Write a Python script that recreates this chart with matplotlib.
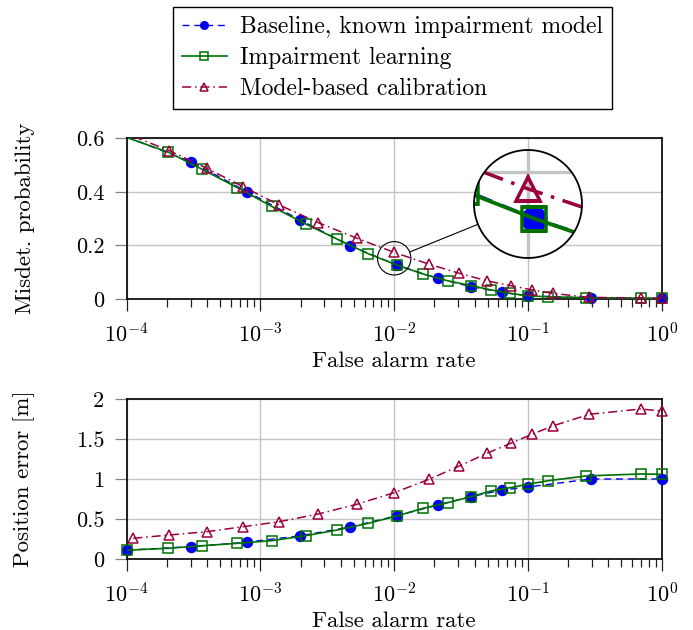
import numpy as np
import matplotlib.pyplot as plt
from matplotlib.patches import Circle, Ellipse
from matplotlib.lines import Line2D
from matplotlib.ticker import LogLocator, FuncFormatter, NullFormatter

plt.rcParams['font.family'] = 'serif'
plt.rcParams['font.serif'] = ['cmr10']
plt.rcParams['mathtext.fontset'] = 'cm'
plt.rcParams['axes.formatter.use_mathtext'] = True
plt.rcParams['axes.unicode_minus'] = False
FS = 16

# false alarm rate (x) for each method
far_base = [1e-4, 3.01e-4, 7.89e-4, 1.98e-3, 4.67e-3, 1.045e-2, 2.11e-2, 3.75e-2, 6.37e-2, 0.1, 0.296, 1.0]
far_learn = [1e-4, 2.05e-4, 3.67e-4, 6.71e-4, 1.21e-3, 2.18e-3, 3.76e-3, 6.40e-3, 1.045e-2, 1.65e-2,
             2.51e-2, 3.75e-2, 5.29e-2, 7.34e-2, 0.1, 0.142, 0.272, 0.697, 1.0]
far_calib = [1.12e-4, 2.08e-4, 3.96e-4, 7.44e-4, 1.38e-3, 2.71e-3, 5.25e-3, 1.0e-2, 1.82e-2, 3.07e-2,
             4.92e-2, 7.43e-2, 0.107, 0.153, 0.288, 0.697, 1.0]

# misdetection probability
md_base = [0.605, 0.513, 0.401, 0.295, 0.199, 0.127, 0.077, 0.046, 0.025, 0.012, 0.004, 0.002]
md_learn = [0.603, 0.548, 0.484, 0.416, 0.346, 0.280, 0.223, 0.169, 0.127, 0.093,
            0.068, 0.050, 0.034, 0.021, 0.012, 0.008, 0.005, 0.003, 0.002]
md_calib = [0.607, 0.554, 0.488, 0.419, 0.351, 0.285, 0.227, 0.174, 0.130, 0.096,
            0.068, 0.050, 0.034, 0.021, 0.006, 0.004, 0.003]

# position error [m]
pe_base = [0.11, 0.154, 0.21, 0.29, 0.40, 0.54, 0.675, 0.78, 0.86, 0.90, 1.0, 1.0]
pe_learn = [0.11, 0.134, 0.166, 0.196, 0.229, 0.291, 0.363, 0.446, 0.538, 0.634,
            0.704, 0.779, 0.85, 0.891, 0.934, 0.979, 1.038, 1.063, 1.059]
pe_calib = [0.259, 0.30, 0.341, 0.404, 0.466, 0.5625, 0.684, 0.829, 0.996, 1.1625,
            1.321, 1.446, 1.559, 1.6625, 1.809, 1.875, 1.85]

labels = ['Baseline, known impairment model', 'Impairment learning', 'Model-based calibration']
blue, green, red = '#0000f0', '#007000', '#9b003c'
styles = [
    dict(color=blue, ls=(0, (5, 3.5)), lw=1.0, marker='o', mfc=blue, mec=blue, ms=7.2, mew=1.0),
    dict(color=green, ls='-', lw=1.2, marker='s', mfc='none', mec=green, ms=7.4, mew=1.1),
    dict(color=red, ls=(0, (6, 2.5, 1, 2.5)), lw=1.1, marker='^', mfc='none', mec=red, ms=7.4, mew=1.1),
]
series_top = [(far_base, md_base), (far_learn, md_learn), (far_calib, md_calib)]
series_bot = [(far_base, pe_base), (far_learn, pe_learn), (far_calib, pe_calib)]

W, H = 693, 630
fig = plt.figure(figsize=(W / 100, H / 100), dpi=100)


def px_axes(l, t, r, b):
    return fig.add_axes([l / W, 1 - b / H, (r - l) / W, (b - t) / H])


def draw(ax, series, ymax, scale=1.0, clip=None):
    z = 3
    for (x, y), st in zip(series, styles):
        x = np.array(x)
        y = np.array(y)
        ln, = ax.plot(x, y, color=st['color'], ls=st['ls'], lw=st['lw'] * scale, zorder=z)
        keep = y <= ymax
        mk, = ax.plot(x[keep], y[keep], ls='none', marker=st['marker'], ms=st['ms'] * scale,
                      mfc=st['mfc'], mec=st['mec'], mew=st['mew'] * scale, zorder=z + 0.5,
                      clip_on=clip is not None)
        if clip is not None:
            ln.set_clip_path(clip)
            mk.set_clip_path(clip)
        z += 1


def style_axes(ax, ylim, yticks):
    ax.set_xscale('log')
    ax.set_xlim(1e-4, 1)
    ax.set_ylim(*ylim)
    ax.set_yticks(yticks)
    ax.yaxis.set_major_formatter(FuncFormatter(lambda v, p: f'{v:g}'))
    ax.xaxis.set_major_locator(LogLocator(base=10, numticks=10))
    ax.xaxis.set_minor_locator(LogLocator(base=10, subs=np.arange(2, 10), numticks=20))
    ax.xaxis.set_minor_formatter(NullFormatter())
    ax.grid(True, which='major', color='#c4c4c4', lw=1.0)
    ax.set_axisbelow(True)
    for s in ax.spines.values():
        s.set_linewidth(1.2)
        s.set_zorder(2.5)
    ax.tick_params(axis='x', which='major', direction='out', length=8.5, width=0.9,
                   color='#202020', pad=8, labelsize=FS)
    ax.tick_params(axis='x', which='minor', direction='out', length=5.5, width=0.9, color='#202020')
    ax.tick_params(axis='y', which='major', direction='out', length=9, width=0.9,
                   color='#808080', pad=7, labelsize=FS)
    ax.set_xlabel('False alarm rate', fontsize=16.5, va='top')
    ax.xaxis.set_label_coords(0.5, -0.325)


ax1 = px_axes(126.7, 138.3, 661.7, 299)
ax2 = px_axes(126.7, 399, 661.7, 559)

style_axes(ax1, (0, 0.6), [0, 0.2, 0.4, 0.6])
draw(ax1, series_top, 0.6)
ax1.set_ylabel('Misdet. probability', fontsize=16.5)
ax1.yaxis.set_label_coords(-0.1714, 0.5)

style_axes(ax2, (0, 2), [0, 0.5, 1, 1.5, 2])
draw(ax2, series_bot, 2.0)
ax2.set_ylabel('Position error [m]', fontsize=16.5)
ax2.yaxis.set_label_coords(-0.1714, 0.5)

# magnifier inset around 1e-2
cx, cy, R = 528, 204, 54
ax_in = px_axes(cx - R, cy - R, cx + R, cy + R)
ax_in.set_xscale('log')
ax_in.set_xlim(10 ** -2.17, 10 ** -1.83)
ax_in.set_ylim(0.0644, 0.2356)
ax_in.axis('off')
bg = Circle((0.5, 0.5), 0.5, transform=ax_in.transAxes, facecolor='white', edgecolor='none', zorder=0)
ax_in.add_patch(bg)
for g in (ax_in.axvline(1e-2, color='#c4c4c4', lw=2.4, zorder=1),
          ax_in.axhline(0.2, color='#c4c4c4', lw=2.4, zorder=1)):
    g.set_clip_path(bg)
draw(ax_in, series_top, 1.0, scale=2.3, clip=bg)
ax_in.add_patch(Circle((0.5, 0.5), 0.5, transform=ax_in.transAxes, fill=False,
                       edgecolor='black', lw=1.3, zorder=10, clip_on=False))

# small circle and connector
sx, sy = ax1.transData.transform((0.01, 0.152))
sy = H - sy
r = 16.7
fig.add_artist(Ellipse((sx / W, 1 - sy / H), 2 * r / W, 2 * r / H, transform=fig.transFigure,
                       fill=False, edgecolor='black', lw=0.8, zorder=10))
d = np.array([cx - sx, cy - sy])
d = d / np.hypot(*d)
p0 = np.array([sx, sy]) + r * d
p1 = np.array([cx, cy]) - R * d
fig.add_artist(Line2D([p0[0] / W, p1[0] / W], [1 - p0[1] / H, 1 - p1[1] / H],
                      transform=fig.transFigure, color='black', lw=0.8, zorder=10))

handles = [Line2D([], [], color=st['color'], ls=st['ls'], lw=st['lw'], marker=st['marker'],
                  ms=5.5, mfc=st['mfc'], mec=st['mec'], mew=st['mew']) for st in styles]
leg = fig.legend(handles, labels, loc='upper left', bbox_to_anchor=(173 / W, 1 - 7 / H),
                 frameon=True, fancybox=False, edgecolor='black', framealpha=1,
                 borderaxespad=0, handlelength=1.9, handletextpad=0.55, labelspacing=0.38,
                 borderpad=0.38, fontsize=17, numpoints=1)
leg.get_frame().set_linewidth(1.0)

fig.savefig('out.png', dpi=100)
